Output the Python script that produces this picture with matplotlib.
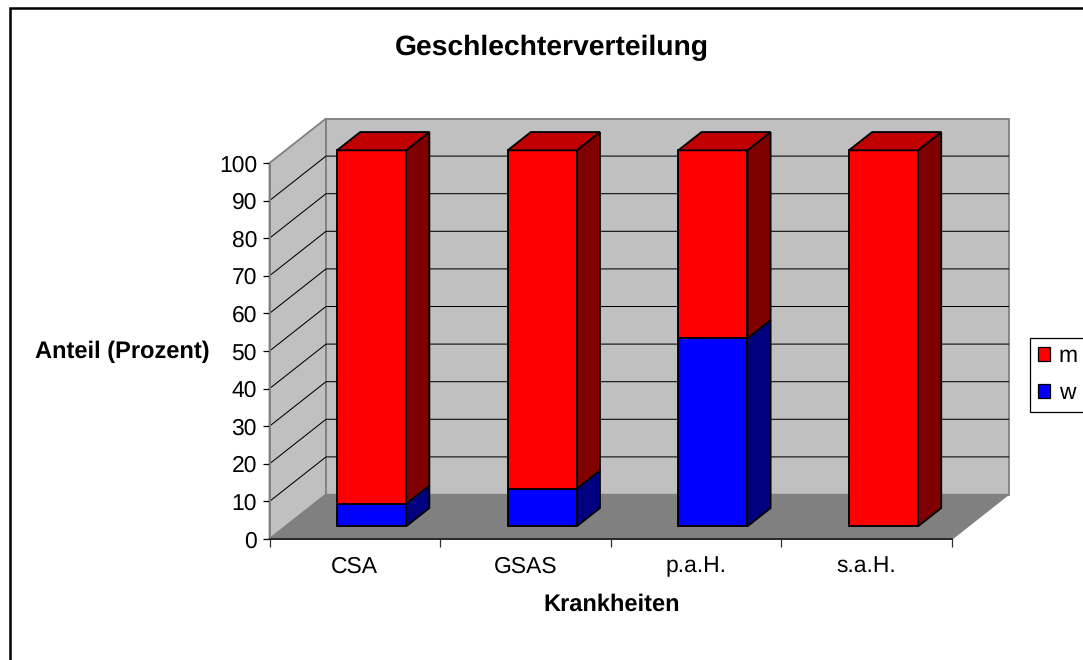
#!/usr/bin/env python3
import matplotlib
matplotlib.use('Agg')
import matplotlib.pyplot as plt
from matplotlib.patches import Polygon, Rectangle

categories = ['CSA', 'GSAS', 'p.a.H.', 's.a.H.']
w_values = [6, 10, 50, 0]
m_values = [94, 90, 50, 100]
y_ticks = [0, 10, 20, 30, 40, 50, 60, 70, 80, 90, 100]

W, H = 1083, 660
plt.rcParams['font.family'] = ['Liberation Sans', 'DejaVu Sans']
plt.rcParams['text.hinting'] = 'no_hinting'

# front plane of the fake 3d box, in pixels
LEFT, RIGHT, BOTTOM, TOP = 269.5, 952.0, 539.0, 163.0
DX = 56.5 / ((RIGHT - LEFT) / 4)   # full depth in category units
DZ = 44.5 / ((BOTTOM - TOP) / 100)  # full depth in percent units
BAR_W = 0.405
D0, D1 = 0.285, 0.695
LABEL_SIZE = 16.5


def proj(x, v, d):
    return (x + d * DX, v + d * DZ)


def face(ax, pts, color, edge='black', lw=1.35, z=3):
    ax.add_patch(Polygon(pts, closed=True, facecolor=color, edgecolor=edge,
                         linewidth=lw, joinstyle='miter', clip_on=False, zorder=z))


def segment(ax, x, v0, v1, front, side):
    x0 = x - BAR_W / 2
    x1 = x + BAR_W / 2
    face(ax, [proj(x1, v0, D0), proj(x1, v0, D1), proj(x1, v1, D1), proj(x1, v1, D0)], side)
    face(ax, [proj(x0, v0, D0), proj(x1, v0, D0), proj(x1, v1, D0), proj(x0, v1, D0)], front)


fig = plt.figure(figsize=(W / 100, H / 100), dpi=100, facecolor='white')
ax = fig.add_axes([LEFT / W, 1 - BOTTOM / H, (RIGHT - LEFT) / W, (BOTTOM - TOP) / H])
ax.set_xlim(0, 4)
ax.set_ylim(0, 100)
ax.patch.set_visible(False)

# outer chart frame, runs off the right and bottom of the picture
fig.add_artist(Rectangle((9.5 / W, -0.05), 1.1, 1.05 - 7.5 / H, transform=fig.transFigure,
                         facecolor='none', edgecolor='black', linewidth=1.8))

# walls and floor
wall_edge = '#808080'
face(ax, [proj(0, 0, 0), proj(0, 0, 1), proj(0, 100, 1), proj(0, 100, 0)], '#C0C0C0', wall_edge, 1.3, 1)
face(ax, [proj(0, 0, 1), proj(4, 0, 1), proj(4, 100, 1), proj(0, 100, 1)], '#C0C0C0', wall_edge, 1.3, 1)
face(ax, [proj(0, 0, 0), proj(4, 0, 0), proj(4, 0, 1), proj(0, 0, 1)], '#808080', wall_edge, 1.0, 1)

for t in y_ticks[1:-1]:
    pts = [proj(0, t, 0), proj(0, t, 1), proj(4, t, 1)]
    ax.plot([p[0] for p in pts], [p[1] for p in pts], color='black', lw=0.75,
            clip_on=False, zorder=2)

# bars
for i in range(len(categories)):
    x = i + 0.504
    w = w_values[i]
    m = m_values[i]
    if w > 0:
        segment(ax, x, 0, w, '#0000FF', '#000080')
    segment(ax, x, w, w + m, '#FF0000', '#800000')
    x0 = x - BAR_W / 2
    x1 = x + BAR_W / 2
    top = w + m
    face(ax, [proj(x0, top, D0), proj(x1, top, D0), proj(x1, top, D1), proj(x0, top, D1)], '#C00000')

# axes
for s in ['top', 'right']:
    ax.spines[s].set_visible(False)
ax.spines['left'].set_color('#808080')
ax.spines['left'].set_linewidth(1.3)
ax.spines['left'].set_zorder(4)
ax.spines['bottom'].set_color('#202020')
ax.spines['bottom'].set_linewidth(1.3)
ax.spines['bottom'].set_zorder(4)

ax.set_yticks(y_ticks)
ax.tick_params(axis='y', length=5, width=0.9, pad=4, labelsize=LABEL_SIZE, color='black')
ax.set_xticks([0, 1, 2, 3, 4])
ax.set_xticklabels([])
ax.set_xticks([i + 0.5 for i in range(len(categories))], labels=categories, minor=True)
ax.tick_params(axis='x', which='major', length=5.5, width=0.9, color='#303030')
ax.tick_params(axis='x', which='minor', length=0, pad=12, labelsize=LABEL_SIZE)

fig.text(551.5 / W, 1 - 48 / H, 'Geschlechterverteilung', fontsize=20.3, fontweight='bold',
         ha='center', va='center')
fig.text(611.5 / W, 1 - 605 / H, 'Krankheiten', fontsize=17, fontweight='bold',
         ha='center', va='center')
fig.text(122.5 / W, 1 - 352 / H, 'Anteil (Prozent)', fontsize=17, fontweight='bold',
         ha='center', va='center')

handles = [Rectangle((0, 0), 1, 1, facecolor='#FF0000', edgecolor='black', linewidth=0.9),
           Rectangle((0, 0), 1, 1, facecolor='#0000FF', edgecolor='black', linewidth=0.9)]
leg = fig.legend(handles, ['m', 'w'], loc='upper left',
                 bbox_to_anchor=(1030 / W, 1 - 338 / H), bbox_transform=fig.transFigure,
                 borderaxespad=0, fontsize=LABEL_SIZE, fancybox=False, framealpha=1,
                 edgecolor='black', handlelength=0.55, handleheight=0.55,
                 handletextpad=0.36, borderpad=0.34, labelspacing=0.68)
leg.get_frame().set_linewidth(0.9)

plt.savefig('out.png', dpi=100)
